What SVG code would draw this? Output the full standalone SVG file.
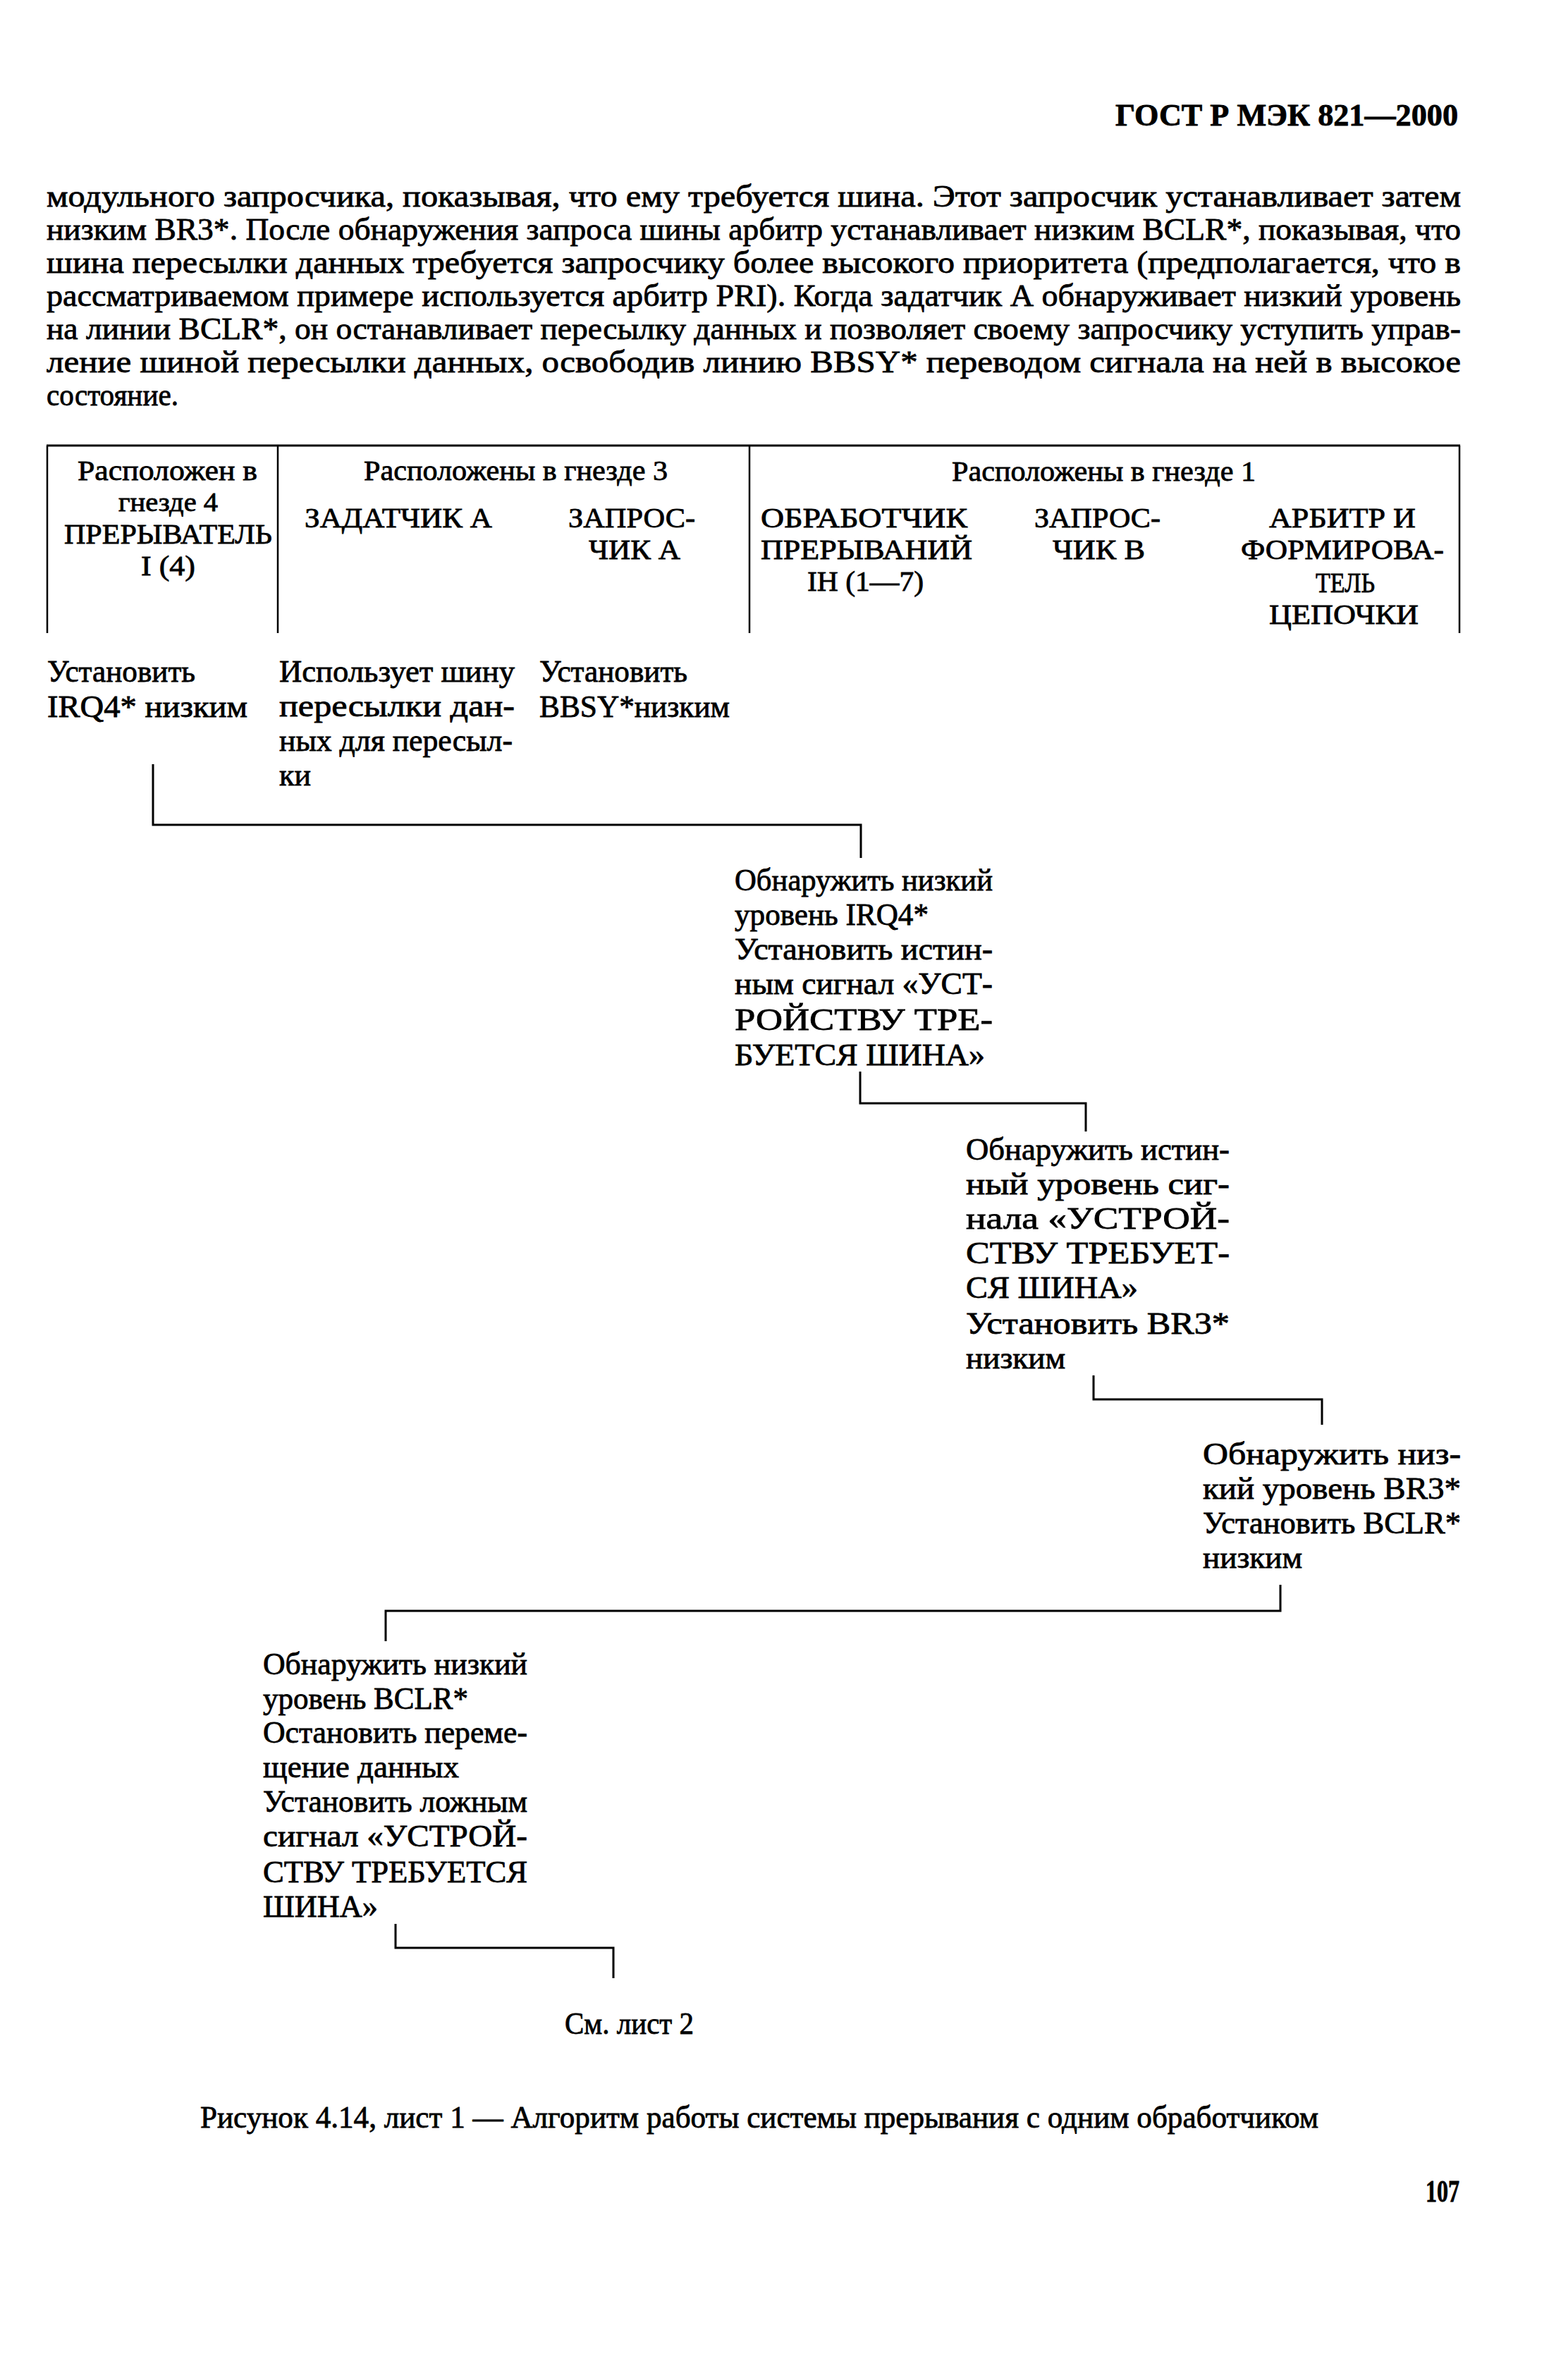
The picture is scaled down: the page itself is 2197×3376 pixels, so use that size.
<svg xmlns="http://www.w3.org/2000/svg" width="2197" height="3376" viewBox="0 0 2197 3376">
<style>
text{font-family:"Liberation Serif","Times New Roman",serif;fill:#000;stroke:#000;stroke-width:0.8}
.p{font-size:44px}
.t{font-size:44px}
.h{font-size:41px}
.s{font-size:37px}
.b{font-weight:bold;font-size:44px}
.ln{stroke:#000;stroke-width:3;fill:none}
.tb{stroke:#000;stroke-width:2.5;fill:none}
</style>
<rect width="2197" height="3376" fill="#fff"/>
<g id="page-header">
<text class="b" x="2068" y="178" text-anchor="end" textLength="486" lengthAdjust="spacingAndGlyphs">ГОСТ Р МЭК 821—2000</text>
</g>
<g id="paragraph">
<text class="p" x="66" y="293" textLength="2006" lengthAdjust="spacingAndGlyphs">модульного запросчика, показывая, что ему требуется шина. Этот запросчик устанавливает затем</text>
<text class="p" x="66" y="340" textLength="2006" lengthAdjust="spacingAndGlyphs">низким BR3*. После обнаружения запроса шины арбитр устанавливает низким BCLR*, показывая, что</text>
<text class="p" x="66" y="387" textLength="2006" lengthAdjust="spacingAndGlyphs">шина пересылки данных требуется запросчику более высокого приоритета (предполагается, что в</text>
<text class="p" x="66" y="434" textLength="2006" lengthAdjust="spacingAndGlyphs">рассматриваемом примере используется арбитр PRI). Когда задатчик А обнаруживает низкий уровень</text>
<text class="p" x="66" y="481" textLength="2006" lengthAdjust="spacingAndGlyphs">на линии BCLR*, он останавливает пересылку данных и позволяет своему запросчику уступить управ-</text>
<text class="p" x="66" y="528" textLength="2006" lengthAdjust="spacingAndGlyphs">ление шиной пересылки данных, освободив линию BBSY* переводом сигнала на ней в высокое</text>
<text class="p" x="66" y="575" textLength="187" lengthAdjust="spacingAndGlyphs">состояние.</text>
</g>
<g id="table-frame">
<path class="ln" d="M66,632 H2071"/>
<path class="tb" d="M67,632 V898 M394,632 V898 M1063,632 V898 M2070,632 V898"/>
</g>
<g id="col-interrupter">
<text class="h" x="110" y="681" textLength="255" lengthAdjust="spacingAndGlyphs">Расположен в</text>
<text class="s" x="168" y="725" textLength="141" lengthAdjust="spacingAndGlyphs">гнезде 4</text>
<text class="h" x="91" y="771" textLength="295" lengthAdjust="spacingAndGlyphs">ПРЕРЫВАТЕЛЬ</text>
<text class="h" x="200" y="816" textLength="77" lengthAdjust="spacingAndGlyphs">I (4)</text>
</g>
<g id="col-slot3">
<text class="h" x="516" y="681" textLength="431" lengthAdjust="spacingAndGlyphs">Расположены в гнезде 3</text>
<text class="h" x="432" y="748" textLength="266" lengthAdjust="spacingAndGlyphs">ЗАДАТЧИК А</text>
<text class="h" x="806" y="748" textLength="180" lengthAdjust="spacingAndGlyphs">ЗАПРОС-</text>
<text class="h" x="835" y="793" textLength="130" lengthAdjust="spacingAndGlyphs">ЧИК А</text>
</g>
<g id="col-slot1">
<text class="h" x="1350" y="682" textLength="431" lengthAdjust="spacingAndGlyphs">Расположены в гнезде 1</text>
<text class="h" x="1079" y="748" textLength="293" lengthAdjust="spacingAndGlyphs">ОБРАБОТЧИК</text>
<text class="h" x="1079" y="793" textLength="300" lengthAdjust="spacingAndGlyphs">ПРЕРЫВАНИЙ</text>
<text class="h" x="1145" y="838" textLength="165" lengthAdjust="spacingAndGlyphs">IH (1—7)</text>
<text class="h" x="1467" y="748" textLength="179" lengthAdjust="spacingAndGlyphs">ЗАПРОС-</text>
<text class="h" x="1493" y="793" textLength="131" lengthAdjust="spacingAndGlyphs">ЧИК В</text>
<text class="h" x="1800" y="748" textLength="208" lengthAdjust="spacingAndGlyphs">АРБИТР И</text>
<text class="h" x="1760" y="793" textLength="288" lengthAdjust="spacingAndGlyphs">ФОРМИРОВА-</text>
<text class="h" x="1866" y="840" textLength="84" lengthAdjust="spacingAndGlyphs">ТЕЛЬ</text>
<text class="h" x="1800" y="885" textLength="212" lengthAdjust="spacingAndGlyphs">ЦЕПОЧКИ</text>
</g>
<g id="step-irq4">
<text class="t" x="67" y="967" textLength="210" lengthAdjust="spacingAndGlyphs">Установить</text>
<text class="t" x="67" y="1017" textLength="284" lengthAdjust="spacingAndGlyphs">IRQ4* низким</text>
</g>
<g id="step-master-a">
<text class="t" x="396" y="967" textLength="334" lengthAdjust="spacingAndGlyphs">Использует шину</text>
<text class="t" x="396" y="1016" textLength="334" lengthAdjust="spacingAndGlyphs">пересылки дан-</text>
<text class="t" x="396" y="1065" textLength="331" lengthAdjust="spacingAndGlyphs">ных для пересыл-</text>
<text class="t" x="396" y="1114">ки</text>
</g>
<g id="step-bbsy">
<text class="t" x="765" y="967" textLength="210" lengthAdjust="spacingAndGlyphs">Установить</text>
<text class="t" x="765" y="1017" textLength="270" lengthAdjust="spacingAndGlyphs">BBSY*низким</text>
</g>
<g id="step-handler">
<text class="t" x="1042" y="1263" textLength="366" lengthAdjust="spacingAndGlyphs">Обнаружить низкий</text>
<text class="t" x="1042" y="1312" textLength="275" lengthAdjust="spacingAndGlyphs">уровень IRQ4*</text>
<text class="t" x="1042" y="1361" textLength="366" lengthAdjust="spacingAndGlyphs">Установить истин-</text>
<text class="t" x="1042" y="1410" textLength="366" lengthAdjust="spacingAndGlyphs">ным сигнал «УСТ-</text>
<text class="t" x="1042" y="1461" textLength="366" lengthAdjust="spacingAndGlyphs">РОЙСТВУ ТРЕ-</text>
<text class="t" x="1042" y="1511" textLength="355" lengthAdjust="spacingAndGlyphs">БУЕТСЯ ШИНА»</text>
</g>
<g id="step-requester-b">
<text class="t" x="1370" y="1645" textLength="374" lengthAdjust="spacingAndGlyphs">Обнаружить истин-</text>
<text class="t" x="1370" y="1694" textLength="374" lengthAdjust="spacingAndGlyphs">ный уровень сиг-</text>
<text class="t" x="1370" y="1743" textLength="374" lengthAdjust="spacingAndGlyphs">нала «УСТРОЙ-</text>
<text class="t" x="1370" y="1792" textLength="374" lengthAdjust="spacingAndGlyphs">СТВУ ТРЕБУЕТ-</text>
<text class="t" x="1370" y="1841" textLength="244" lengthAdjust="spacingAndGlyphs">СЯ ШИНА»</text>
<text class="t" x="1370" y="1892" textLength="374" lengthAdjust="spacingAndGlyphs">Установить BR3*</text>
<text class="t" x="1370" y="1941" textLength="141" lengthAdjust="spacingAndGlyphs">низким</text>
</g>
<g id="step-arbiter">
<text class="t" x="1706" y="2077" textLength="366" lengthAdjust="spacingAndGlyphs">Обнаружить низ-</text>
<text class="t" x="1706" y="2126" textLength="366" lengthAdjust="spacingAndGlyphs">кий уровень BR3*</text>
<text class="t" x="1706" y="2175" textLength="366" lengthAdjust="spacingAndGlyphs">Установить BCLR*</text>
<text class="t" x="1706" y="2224" textLength="141" lengthAdjust="spacingAndGlyphs">низким</text>
</g>
<g id="step-master-stop">
<text class="t" x="373" y="2375" textLength="375" lengthAdjust="spacingAndGlyphs">Обнаружить низкий</text>
<text class="t" x="373" y="2424" textLength="291" lengthAdjust="spacingAndGlyphs">уровень BCLR*</text>
<text class="t" x="373" y="2472" textLength="375" lengthAdjust="spacingAndGlyphs">Остановить переме-</text>
<text class="t" x="373" y="2521" textLength="278" lengthAdjust="spacingAndGlyphs">щение данных</text>
<text class="t" x="373" y="2570" textLength="375" lengthAdjust="spacingAndGlyphs">Установить ложным</text>
<text class="t" x="373" y="2619" textLength="375" lengthAdjust="spacingAndGlyphs">сигнал «УСТРОЙ-</text>
<text class="t" x="373" y="2670" textLength="375" lengthAdjust="spacingAndGlyphs">СТВУ ТРЕБУЕТСЯ</text>
<text class="t" x="373" y="2719" textLength="163" lengthAdjust="spacingAndGlyphs">ШИНА»</text>
</g>
<g id="connectors">
<path class="ln" d="M217,1084 V1170 H1221 V1217"/>
<path class="ln" d="M1220,1520 V1565 H1540 V1605"/>
<path class="ln" d="M1551,1951 V1985 H1875 V2021"/>
<path class="ln" d="M1816,2248 V2285 H547 V2328"/>
<path class="ln" d="M561,2729 V2763 H870 V2806"/>
</g>
<g id="see-sheet">
<text class="t" x="801" y="2885" textLength="183" lengthAdjust="spacingAndGlyphs">См. лист 2</text>
</g>
<g id="caption">
<text class="t" x="284" y="3018" textLength="1586" lengthAdjust="spacingAndGlyphs">Рисунок 4.14, лист 1 — Алгоритм работы системы прерывания с одним обработчиком</text>
</g>
<g id="page-number">
<text class="b" x="2070" y="3123" text-anchor="end" textLength="48" lengthAdjust="spacingAndGlyphs">107</text>
</g>
</svg>
